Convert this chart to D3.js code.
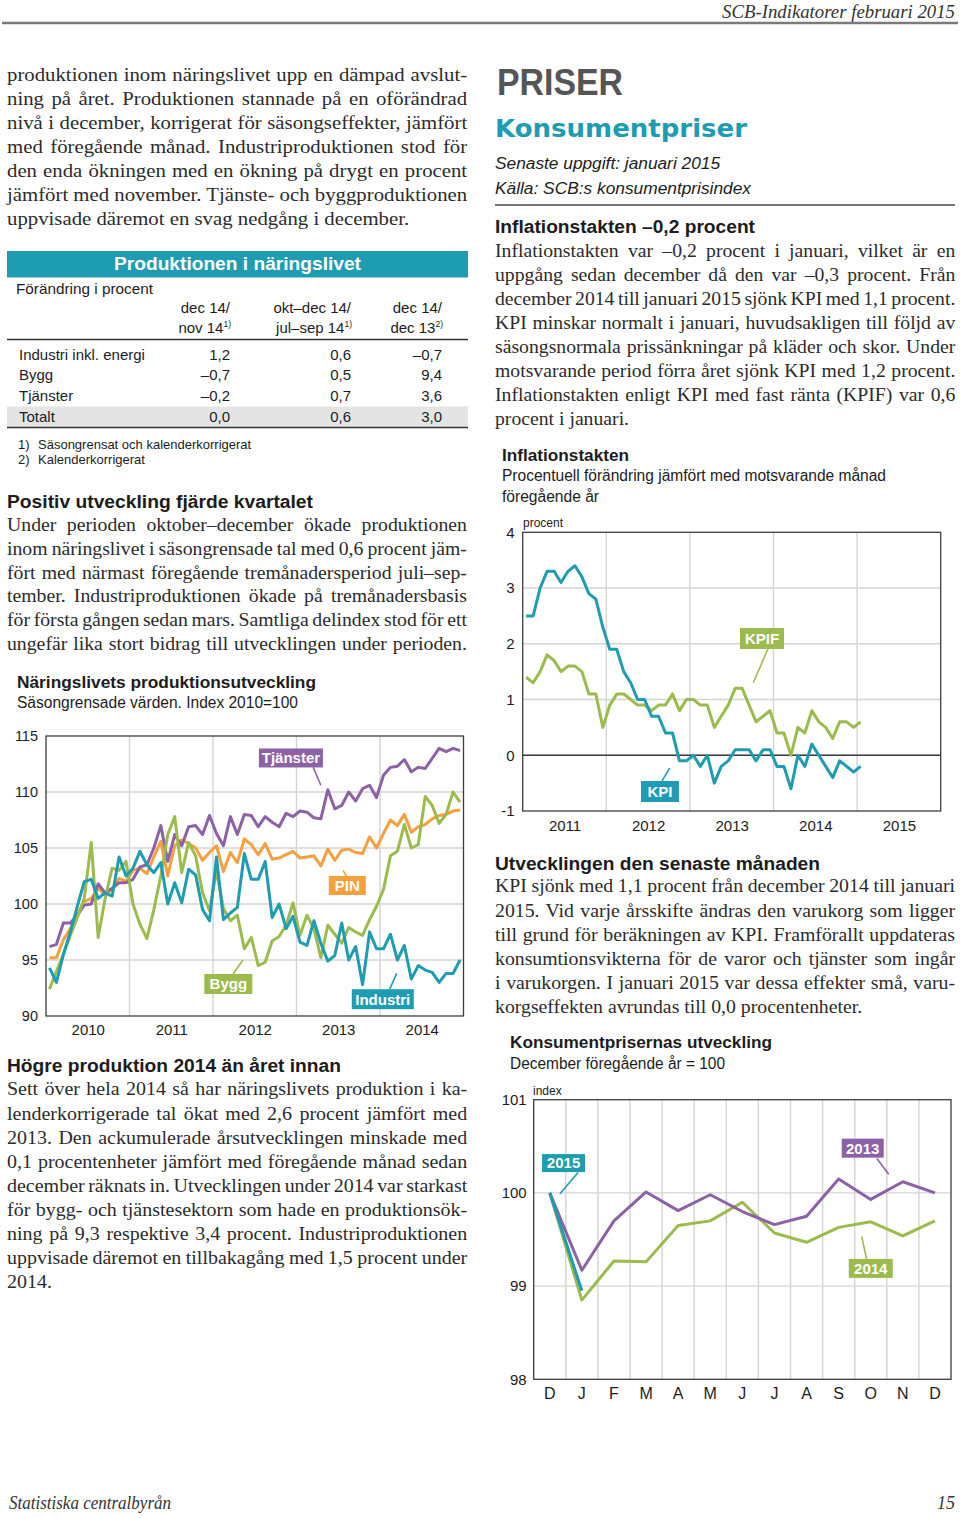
<!DOCTYPE html>
<html><head><meta charset="utf-8">
<script src="https://cdn.jsdelivr.net/npm/d3@7"></script>
<style>
html,body{margin:0;padding:0;background:#fff;}
svg{display:block;}
</style></head><body>
<svg id="page" width="960" height="1518"></svg>
<script>
// ===================== DATA =====================
// Chart 1: Näringslivets produktionsutveckling (monthly, Jan 2010 – Dec 2014)
const prodYears = ["2010", "2011", "2012", "2013", "2014"];
const prodTicks = [90, 95, 100, 105, 110, 115];
const tjanster = [96.2, 96.4, 98.3, 98.3, 99.0, 99.9, 100.0, 101.8, 101.0, 101.4, 101.9, 101.9,
  102.2, 103.3, 103.5, 105.0, 107.0, 103.8, 106.2, 105.2, 106.9, 107.0, 106.2, 107.9,
  106.3, 105.2, 107.8, 106.2, 108.0, 107.9, 106.9, 107.8, 107.3, 106.9, 108.1, 107.8,
  108.3, 108.2, 107.7, 107.6, 110.2, 108.5, 108.8, 110.0, 109.2, 110.3, 110.6, 109.5,
  111.5, 112.2, 112.3, 112.9, 111.8, 112.2, 112.1, 113.0, 113.9, 113.6, 113.9, 113.7];
const pin = [95.2, 95.2, 96.8, 97.8, 99.0, 100.2, 100.5, 101.4, 100.8, 101.3, 102.3, 102.0,
  103.0, 103.2, 102.7, 104.2, 105.6, 102.5, 105.2, 105.7, 105.4, 105.0, 103.9, 104.6,
  105.2, 102.9, 104.6, 103.7, 105.8, 105.3, 104.4, 105.4, 104.0, 104.1, 104.4, 104.7,
  104.1, 104.2, 104.3, 103.4, 104.9, 103.9, 104.8, 104.9, 104.6, 104.5, 106.0, 105.0,
  106.3, 107.5, 107.0, 108.0, 106.4, 106.9, 107.1, 107.6, 107.9, 108.0, 108.3, 108.4];
const bygg = [92.4, 94.0, 95.5, 97.2, 98.8, 100.5, 105.5, 97.0, 100.5, 103.2, 103.0, 103.8,
  100.0, 98.2, 96.9, 99.5, 102.5, 106.2, 107.8, 102.8, 105.5, 104.3, 101.0, 99.4,
  103.0, 99.6, 98.5, 99.0, 96.0, 97.0, 94.5, 94.8, 96.7, 97.1, 98.1, 100.1,
  97.2, 99.0, 97.8, 95.2, 98.1, 97.3, 96.5, 97.9, 97.5, 97.2, 98.6, 99.8,
  101.3, 104.3, 104.7, 107.1, 105.0, 105.3, 109.6, 108.8, 107.2, 108.0, 110.0, 109.1];
const industri = [94.3, 93.0, 95.5, 97.5, 99.8, 102.0, 102.2, 100.5, 101.0, 100.7, 104.2, 102.5,
  103.2, 104.7, 103.5, 102.8, 103.7, 100.0, 101.9, 100.1, 103.1, 102.6, 99.5, 98.5,
  104.2, 98.6, 99.2, 99.7, 104.5, 102.2, 102.2, 103.8, 98.8, 100.0, 97.8, 98.9,
  96.6, 96.3, 98.5, 96.5, 94.9, 95.4, 98.3, 95.0, 96.2, 92.8, 97.5, 96.0,
  96.0, 97.3, 95.0, 96.3, 93.3, 94.5, 94.1, 93.9, 93.0, 93.8, 93.8, 95.0];

// Chart 2: Inflationstakten (monthly, Jan 2011 – Jan 2015)
const inflYears = ["2011", "2012", "2013", "2014", "2015"];
const inflTicks = [-1, 0, 1, 2, 3, 4];
const kpi = [2.5, 2.5, 3.0, 3.3, 3.3, 3.1, 3.3, 3.4, 3.2, 2.9, 2.8, 2.3,
  1.9, 1.9, 1.5, 1.3, 1.0, 1.0, 0.7, 0.7, 0.4, 0.4, -0.1, -0.1,
  0.0, -0.2, 0.0, -0.5, -0.2, -0.1, 0.1, 0.1, 0.1, -0.1, 0.1, 0.1,
  -0.2, -0.2, -0.6, 0.0, -0.2, 0.2, 0.0, -0.2, -0.4, -0.1, -0.2, -0.3,
  -0.2];
const kpif = [1.4, 1.3, 1.5, 1.8, 1.7, 1.5, 1.6, 1.6, 1.5, 1.1, 1.1, 0.5,
  0.9, 1.1, 1.1, 1.0, 0.9, 0.9, 0.8, 0.9, 0.9, 1.1, 0.8, 1.0,
  1.0, 0.9, 0.9, 0.5, 0.7, 0.9, 1.2, 1.2, 0.9, 0.6, 0.7, 0.8,
  0.4, 0.4, 0.0, 0.5, 0.4, 0.8, 0.6, 0.5, 0.3, 0.6, 0.6, 0.5,
  0.6];

// Chart 3: Konsumentprisernas utveckling (December föregående år = 100)
const cpiMonths = ["D", "J", "F", "M", "A", "M", "J", "J", "A", "S", "O", "N", "D"];
const cpiTicks = [98, 99, 100, 101];
const cpi2013 = [100.0, 99.17, 99.70, 100.01, 99.81, 99.98, 99.80, 99.66, 99.75, 100.15, 99.93, 100.12, 100.0];
const cpi2014 = [100.0, 98.85, 99.27, 99.26, 99.65, 99.70, 99.90, 99.57, 99.47, 99.63, 99.69, 99.54, 99.70];
const cpi2015 = [100.0, 98.95];

// Table: Produktionen i näringslivet
const tableColHead = [["dec 14/", "nov 14", "1)"], ["okt–dec 14/", "jul–sep 14", "1)"], ["dec 14/", "dec 13", "2)"]];
const tableRows = ["Industri inkl. energi", "Bygg", "Tjänster", "Totalt"];
const tableVals = [["1,2", "0,6", "–0,7"], ["–0,7", "0,5", "9,4"], ["–0,2", "0,7", "3,6"], ["0,0", "0,6", "3,0"]];

// ===================== TEXT =====================
const paraA = [
  "produktionen inom näringslivet upp en dämpad avslut-",
  "ning på året. Produktionen stannade på en oförändrad",
  "nivå i december, korrigerat för säsongseffekter, jämfört",
  "med föregående månad. Industriproduktionen stod för",
  "den enda ökningen med en ökning på drygt en procent",
  "jämfört med november. Tjänste- och byggproduktionen",
  "uppvisade däremot en svag nedgång i december."];
const paraB = [
  "Under perioden oktober–december ökade produktionen",
  "inom näringslivet i säsongrensade tal med 0,6 procent jäm-",
  "fört med närmast föregående tremånadersperiod juli–sep-",
  "tember. Industriproduktionen ökade på tremånadersbasis",
  "för första gången sedan mars. Samtliga delindex stod för ett",
  "ungefär lika stort bidrag till utvecklingen under perioden."];
const paraC = [
  "Sett över hela 2014 så har näringslivets produktion i ka-",
  "lenderkorrigerade tal ökat med 2,6 procent jämfört med",
  "2013. Den ackumulerade årsutvecklingen minskade med",
  "0,1 procentenheter jämfört med föregående månad sedan",
  "december räknats in. Utvecklingen under 2014 var starkast",
  "för bygg- och tjänstesektorn som hade en produktionsök-",
  "ning på 9,3 respektive 3,4 procent. Industriproduktionen",
  "uppvisade däremot en tillbakagång med 1,5 procent under",
  "2014."];
const paraD = [
  "Inflationstakten var –0,2 procent i januari, vilket är en",
  "uppgång sedan december då den var –0,3 procent. Från",
  "december 2014 till januari 2015 sjönk KPI med 1,1 procent.",
  "KPI minskar normalt i januari, huvudsakligen till följd av",
  "säsongsnormala prissänkningar på kläder och skor. Under",
  "motsvarande period förra året sjönk KPI med 1,2 procent.",
  "Inflationstakten enligt KPI med fast ränta (KPIF) var 0,6",
  "procent i januari."];
const paraE = [
  "KPI sjönk med 1,1 procent från december 2014 till januari",
  "2015. Vid varje årsskifte ändras den varukorg som ligger",
  "till grund för beräkningen av KPI. Framförallt uppdateras",
  "konsumtionsvikterna för de varor och tjänster som ingår",
  "i varukorgen. I januari 2015 var dessa effekter små, varu-",
  "korgseffekten avrundas till 0,0 procentenheter."];

// ===================== DRAWING =====================
const C = {teal: "#1e9cb1", purple: "#8c61a6", orange: "#f4a03e", green: "#9bbb4c",
  grid: "#d4d4d4", frame: "#3c3c3c", text: "#1c1c1c", body: "#2b2b2b"};
const SANS = "'Liberation Sans', Arial, Helvetica, sans-serif";
const SERIF = "'Liberation Serif', 'Times New Roman', serif";

const svg = d3.select("#page");
svg.append("rect").attr("width", 960).attr("height", 1518).attr("fill", "#fff");

function txt(x, y, s, o = {}) {
  const t = svg.append("text").attr("x", x).attr("y", y)
    .attr("font-family", o.serif ? SERIF : (o.family || SANS))
    .attr("font-size", o.size || 15)
    .attr("font-weight", o.bold ? "bold" : "normal")
    .attr("font-style", o.italic ? "italic" : "normal")
    .attr("fill", o.fill || C.text)
    .attr("text-anchor", o.anchor || "start")
    .text(s);
  if (o.dy) t.attr("dy", o.dy);
  if (o.len) t.attr("textLength", o.len).attr("lengthAdjust", "spacingAndGlyphs");
  return t;
}

// justified paragraph: glyphs widened by a common factor (Palatino-like width), rest by word spacing
function para(lines, x, y, W, lh, justifyLast) {
  const nodes = lines.map((ln, i) => svg.append("text").attr("x", x).attr("y", y + i * lh)
    .attr("font-family", SERIF).attr("font-size", 19.3).attr("fill", C.body).text(ln));
  const nat = nodes.map(t => t.node().getComputedTextLength());
  const ratios = lines.map((ln, i) => W / nat[i]).filter((r, i) => i < lines.length - 1 || justifyLast);
  let s = d3.median(ratios) || 1.08;
  s = Math.max(1.0, Math.min(1.1, s - 0.015));
  nodes.forEach((t, i) => {
    const ln = lines[i];
    const justify = i < lines.length - 1 || justifyLast;
    t.attr("x", x / s).attr("transform", `scale(${s},1)`).attr("y", y + i * lh);
    if (justify) {
      const sp = (ln.match(/ /g) || []).length;
      const ws = sp ? (W / s - nat[i]) / sp : 0;
      if (ws > -2.5) t.style("word-spacing", ws + "px");
      else t.attr("textLength", W / s).attr("lengthAdjust", "spacingAndGlyphs");
    }
  });
}

// ---- Header / footer ----
txt(955, 18, "SCB-Indikatorer februari 2015", {serif: true, italic: true, size: 19, anchor: "end", fill: "#333", len: 233});
svg.append("line").attr("x1", 2).attr("x2", 958).attr("y1", 23).attr("y2", 23).attr("stroke", "#7a7a7a").attr("stroke-width", 2.5);
txt(9, 1509, "Statistiska centralbyrån", {serif: true, italic: true, size: 18, fill: "#333", len: 162});
txt(955, 1509, "15", {serif: true, italic: true, size: 18, anchor: "end", fill: "#333"});

// ---- Left column text ----
para(paraA, 7, 81, 460, 24, false);
txt(7, 508, "Positiv utveckling fjärde kvartalet", {bold: true, size: 18, len: 306});
para(paraB, 7, 531, 460, 23.8, true);
txt(7, 1071.5, "Högre produktion 2014 än året innan", {bold: true, size: 18, len: 334});
para(paraC, 7, 1095.5, 460, 24.07, false);

// ---- Table ----
svg.append("rect").attr("x", 7).attr("y", 251).attr("width", 461).attr("height", 26.5).attr("fill", C.teal);
txt(237.5, 264, "Produktionen i näringslivet", {bold: true, size: 17.5, anchor: "middle", fill: "#fff", dy: "0.35em", len: 247});
txt(16, 289, "Förändring i procent", {size: 15, dy: "0.35em", len: 137});
const colRight = [230, 351, 442];
tableColHead.forEach((h, j) => {
  txt(colRight[j], 308, h[0], {size: 15, anchor: "end", dy: "0.35em"});
  const t = txt(colRight[j] + 1, 328, "", {size: 15, anchor: "end", dy: "0.35em"});
  t.append("tspan").text(h[1]);
  t.append("tspan").attr("font-size", 8.5).attr("dy", "-0.7em").text(h[2]);
});
svg.append("line").attr("x1", 7).attr("x2", 468).attr("y1", 339.5).attr("y2", 339.5).attr("stroke", "#333").attr("stroke-width", 1.5);
svg.append("rect").attr("x", 7).attr("y", 406.5).attr("width", 461).attr("height", 20.5).attr("fill", "#e4e4e4");
const rowY = [354.3, 375, 395.7, 416.7];
tableRows.forEach((r, i) => {
  txt(19, rowY[i], r, {size: 15, dy: "0.35em"});
  tableVals[i].forEach((v, j) => txt(colRight[j], rowY[i], v, {size: 15, anchor: "end", dy: "0.35em"}));
});
svg.append("line").attr("x1", 7).attr("x2", 468).attr("y1", 427.5).attr("y2", 427.5).attr("stroke", "#333").attr("stroke-width", 1.5);
txt(18, 444, "1)", {size: 13, dy: "0.35em"});
txt(38, 444, "Säsongrensat och kalenderkorrigerat", {size: 13, dy: "0.35em"});
txt(18, 459, "2)", {size: 13, dy: "0.35em"});
txt(38, 459, "Kalenderkorrigerat", {size: 13, dy: "0.35em"});

// ---- generic helpers for charts ----
function styleAxis(g, size) {
  g.select(".domain").remove();
  g.selectAll("text").attr("font-family", SANS).attr("font-size", size).attr("fill", C.text);
}
function tag(g, label, cx, cy, w, h, color, leader) {
  g.append("line").attr("x1", leader[0]).attr("y1", leader[1]).attr("x2", leader[2]).attr("y2", leader[3])
    .attr("stroke", color).attr("stroke-width", 1.6);
  g.append("rect").attr("x", cx - w / 2).attr("y", cy - h / 2).attr("width", w).attr("height", h).attr("fill", color);
  g.append("text").attr("x", cx).attr("y", cy).attr("dy", "0.36em").attr("text-anchor", "middle")
    .attr("font-family", SANS).attr("font-weight", "bold").attr("font-size", 15).attr("fill", "#fff").text(label);
}
function frame(g, l, t, r, b) {
  g.append("rect").attr("x", l).attr("y", t).attr("width", r - l).attr("height", b - t)
    .attr("fill", "none").attr("stroke", C.frame).attr("stroke-width", 1.3);
}
const plain = d => String(d);

// ---- Chart 1: Näringslivets produktionsutveckling ----
txt(17, 687.5, "Näringslivets produktionsutveckling", {bold: true, size: 16.5, len: 299});
txt(17, 708, "Säsongrensade värden. Index 2010=100", {size: 16, len: 281});
{
  const L = 46, R = 463.5, T = 736, B = 1016;
  const x = d3.scaleLinear().domain([0, prodYears.length * 12]).range([L, R]);
  const y = d3.scaleLinear().domain([prodTicks[0], prodTicks[prodTicks.length - 1]]).range([B, T]);
  const g = svg.append("g");
  g.selectAll(".hg").data(prodTicks.slice(1, -1)).join("line")
    .attr("x1", L).attr("x2", R).attr("y1", d => y(d)).attr("y2", d => y(d)).attr("stroke", C.grid).attr("stroke-width", 1.4);
  g.selectAll(".vg").data(prodYears.slice(1).map((d, i) => (i + 1) * 12)).join("line")
    .attr("x1", d => x(d)).attr("x2", d => x(d)).attr("y1", T).attr("y2", B).attr("stroke", C.grid).attr("stroke-width", 1.4);
  const line = d3.line().x((d, i) => x(i + 0.5)).y(d => y(d)).curve(d3.curveLinear);
  [[pin, C.orange], [tjanster, C.purple], [bygg, C.green], [industri, C.teal]].forEach(([s, c]) =>
    g.append("path").attr("d", line(s)).attr("fill", "none").attr("stroke", c).attr("stroke-width", 3).attr("stroke-linejoin", "round"));
  frame(g, L, T, R, B);
  const ay = g.append("g").attr("transform", `translate(${L},0)`)
    .call(d3.axisLeft(y).tickValues(prodTicks).tickFormat(plain).tickSize(0).tickPadding(8));
  styleAxis(ay, 14.5);
  const ax = g.append("g").attr("transform", `translate(0,${B})`)
    .call(d3.axisBottom(x).tickValues(prodYears.map((d, i) => i * 12 + 6)).tickFormat((d, i) => prodYears[i]).tickSize(0).tickPadding(8));
  styleAxis(ax, 15);
  tag(g, "Tjänster", x(35.2), y(113.04), 64, 19, C.purple, [x(38.4), y(112.2), x(39.5), y(110.6)]);
  tag(g, "PIN", x(43.3), y(101.65), 37, 19, C.orange, [x(42.7), y(103.0), x(43.4), y(102.2)]);
  tag(g, "Bygg", x(26.2), y(92.86), 48, 20, C.green, [x(26.9), y(93.75), x(28.3), y(95.0)]);
  tag(g, "Industri", x(48.4), y(91.5), 62, 20, C.teal, [x(49.4), y(92.4), x(50.4), y(93.8)]);
}

// ---- Right column text ----
txt(497, 95, "PRISER", {bold: true, size: 37, fill: "#555", len: 126});
txt(495, 137, "Konsumentpriser", {bold: true, size: 24, fill: C.teal, family: "'DejaVu Sans', sans-serif", len: 252});
txt(495, 169, "Senaste uppgift: januari 2015", {italic: true, size: 16, len: 225});
txt(495, 193.5, "Källa: SCB:s konsumentprisindex", {italic: true, size: 16, len: 256});
svg.append("line").attr("x1", 495).attr("x2", 955).attr("y1", 205).attr("y2", 205).attr("stroke", "#777").attr("stroke-width", 2);
txt(495, 233.3, "Inflationstakten –0,2 procent", {bold: true, size: 18, len: 260});
para(paraD, 495, 257.5, 460, 23.9, false);
txt(495, 870, "Utvecklingen den senaste månaden", {bold: true, size: 18, len: 325});
para(paraE, 495, 892.5, 460, 24.1, false);

// ---- Chart 2: Inflationstakten ----
txt(502, 461, "Inflationstakten", {bold: true, size: 17, len: 127});
txt(502, 481, "Procentuell förändring jämfört med motsvarande månad", {size: 16, len: 384});
txt(502, 502, "föregående år", {size: 16, len: 97});
txt(523, 527, "procent", {size: 12});
{
  const L = 522.7, R = 940.7, T = 532.3, B = 811;
  const x = d3.scaleLinear().domain([0, inflYears.length * 12]).range([L, R]);
  const y = d3.scaleLinear().domain([inflTicks[0], inflTicks[inflTicks.length - 1]]).range([B, T]);
  const g = svg.append("g");
  g.selectAll(".hg").data(inflTicks.slice(1, -1)).join("line")
    .attr("x1", L).attr("x2", R).attr("y1", d => y(d)).attr("y2", d => y(d)).attr("stroke", C.grid).attr("stroke-width", 1.4);
  g.selectAll(".vg").data(inflYears.slice(1).map((d, i) => (i + 1) * 12)).join("line")
    .attr("x1", d => x(d)).attr("x2", d => x(d)).attr("y1", T).attr("y2", B).attr("stroke", C.grid).attr("stroke-width", 1.4);
  g.append("line").attr("x1", L).attr("x2", R).attr("y1", y(0)).attr("y2", y(0)).attr("stroke", "#3c3c3c").attr("stroke-width", 1.3);
  const line = d3.line().x((d, i) => x(i + 0.5)).y(d => y(d));
  [[kpif, C.green], [kpi, C.teal]].forEach(([s, c]) =>
    g.append("path").attr("d", line(s)).attr("fill", "none").attr("stroke", c).attr("stroke-width", 3).attr("stroke-linejoin", "round"));
  frame(g, L, T, R, B);
  const ay = g.append("g").attr("transform", `translate(${L},0)`)
    .call(d3.axisLeft(y).tickValues(inflTicks).tickFormat(plain).tickSize(0).tickPadding(8));
  styleAxis(ay, 15);
  const ax = g.append("g").attr("transform", `translate(0,${B})`)
    .call(d3.axisBottom(x).tickValues(inflYears.map((d, i) => i * 12 + 6)).tickFormat((d, i) => inflYears[i]).tickSize(0).tickPadding(9));
  styleAxis(ax, 15);
  tag(g, "KPIF", x(34.35), y(2.095), 44, 21, C.green, [x(35.2), y(1.91), x(33.1), y(1.30)]);
  tag(g, "KPI", x(19.7), y(-0.65), 38, 21, C.teal, [x(20.0), y(-0.46), x(21.1), y(-0.23)]);
}

// ---- Chart 3: Konsumentprisernas utveckling ----
txt(510, 1048, "Konsumentprisernas utveckling", {bold: true, size: 17, len: 262});
txt(510, 1069, "December föregående år = 100", {size: 16, len: 215});
txt(533, 1095, "index", {size: 12});
{
  const L = 533.7, R = 951, T = 1099.7, B = 1379.3;
  const x = d3.scaleBand().domain(d3.range(cpiMonths.length)).range([L, R]).padding(0);
  const bw = x.bandwidth();
  const xc = i => x(Math.floor(i)) + bw / 2 + (i - Math.floor(i)) * bw;
  const y = d3.scaleLinear().domain([cpiTicks[0], cpiTicks[cpiTicks.length - 1]]).range([B, T]);
  const g = svg.append("g");
  g.selectAll(".hg").data(cpiTicks.slice(1, -1)).join("line")
    .attr("x1", L).attr("x2", R).attr("y1", d => y(d)).attr("y2", d => y(d)).attr("stroke", C.grid).attr("stroke-width", 1.4);
  g.selectAll(".vg").data(d3.range(1, cpiMonths.length)).join("line")
    .attr("x1", d => x(d)).attr("x2", d => x(d)).attr("y1", T).attr("y2", B).attr("stroke", C.grid).attr("stroke-width", 1.4);
  const line = d3.line().x((d, i) => x(i) + bw / 2).y(d => y(d));
  [[cpi2014, C.green], [cpi2013, C.purple], [cpi2015, C.teal]].forEach(([s, c]) =>
    g.append("path").attr("d", line(s)).attr("fill", "none").attr("stroke", c).attr("stroke-width", 3).attr("stroke-linejoin", "round"));
  frame(g, L, T, R, B);
  const ay = g.append("g").attr("transform", `translate(${L},0)`)
    .call(d3.axisLeft(y).tickValues(cpiTicks).tickFormat(plain).tickSize(0).tickPadding(7));
  styleAxis(ay, 15);
  const ax = g.append("g").attr("transform", `translate(0,${B})`)
    .call(d3.axisBottom(x).tickFormat(i => cpiMonths[i]).tickSize(0).tickPadding(8.5));
  styleAxis(ax, 16);
  tag(g, "2015", xc(0.43), y(100.32), 43, 18, C.teal, [xc(0.88), y(100.22), xc(0.32), y(99.99)]);
  tag(g, "2013", xc(9.75), y(100.48), 42, 19, C.purple, [xc(10.19), y(100.37), xc(10.56), y(100.2)]);
  tag(g, "2014", xc(10.0), y(99.19), 44, 19, C.green, [xc(9.87), y(99.29), xc(9.72), y(99.53)]);
}
</script></body></html>
